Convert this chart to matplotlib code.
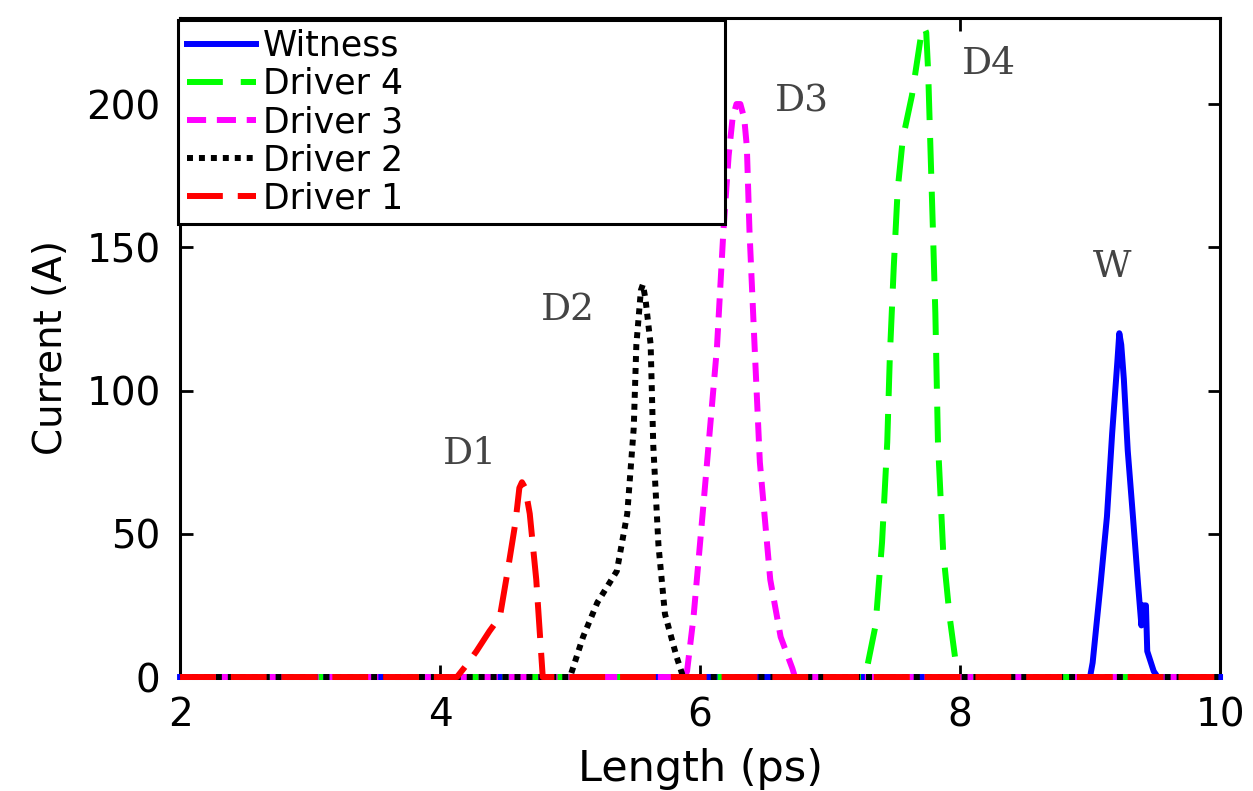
import matplotlib
matplotlib.use("Agg")
import matplotlib.pyplot as plt

# Bunch current profiles along the bunch train (length in ps, current in A)
witness_t = [2.0, 9.00, 9.02, 9.08, 9.13, 9.17, 9.21, 9.225, 9.24, 9.26, 9.29, 9.33,
             9.37, 9.395, 9.40, 9.43, 9.44, 9.49, 9.52, 10.0]
witness_i = [0, 0, 5, 32, 56, 85, 110, 120, 116, 104, 79, 56, 32, 18, 25, 25, 9, 2,
             0, 0]

driver4_t = [2.0, 7.27, 7.35, 7.40, 7.44, 7.46, 7.49, 7.52, 7.56, 7.63, 7.67, 7.70,
             7.72, 7.74, 7.755, 7.77, 7.79, 7.81, 7.83, 7.87, 7.92, 7.97, 7.98, 10.0]
driver4_i = [0, 0, 18, 47, 82, 112, 143, 170, 188, 203, 215, 224, 227, 225, 211, 188,
             158, 127, 82, 44, 21, 4, 0, 0]

driver3_t = [2.0, 5.88, 5.90, 5.95, 6.02, 6.13, 6.18, 6.22, 6.25, 6.28, 6.31, 6.34,
             6.36, 6.38, 6.42, 6.46, 6.54, 6.62, 6.71, 6.73, 10.0]
driver3_i = [0, 0, 2, 21, 57, 115, 156, 182, 195, 200, 200, 195, 185, 156, 115, 75,
             34, 14, 3, 0, 0]

driver2_t = [2.0, 5.00, 5.10, 5.21, 5.36, 5.44, 5.49, 5.51, 5.545, 5.56, 5.58, 5.62,
             5.64, 5.68, 5.73, 5.82, 5.87, 10.0]
driver2_i = [0, 0, 14, 26, 37, 57, 87, 116, 135, 137, 132, 116, 81, 46, 22, 7, 0, 0]

driver1_t = [2.0, 4.13, 4.20, 4.28, 4.38, 4.46, 4.52, 4.58, 4.61, 4.63, 4.655, 4.69,
             4.74, 4.79, 10.0]
driver1_i = [0, 0, 4, 9, 16, 21, 37, 54, 66, 68, 66, 57, 34, 0, 0]

labels = ["Witness", "Driver 4", "Driver 3", "Driver 2", "Driver 1"]
colors = ["#0000FF", "#00FF00", "#FF00FF", "#000000", "#FF0000"]
styles = ["-", (0, (6, 3)), (0, (3.2, 1.8)), (0, (1, 1)), (0, (6, 2.5))]

peak_names = ["W", "D4", "D3", "D2", "D1"]
peak_x = [9.17, 8.22, 6.78, 4.98, 4.23]
peak_y = [143, 214, 201, 128, 78]

x_ticks = [2, 4, 6, 8, 10]
y_ticks = [0, 50, 100, 150, 200]

plt.rcParams["font.family"] = ["DejaVu Sans"]

fig = plt.figure(figsize=(12.53, 7.91), dpi=100)
ax = fig.add_axes([0.1437, 0.1441, 0.8300, 0.8330])

series = [(witness_t, witness_i), (driver4_t, driver4_i), (driver3_t, driver3_i),
          (driver2_t, driver2_i), (driver1_t, driver1_i)]
for (t, i), lab, col, ls in zip(series, labels, colors, styles):
    ax.plot(t, i, color=col, lw=4.3, linestyle=ls, label=lab, clip_on=False,
            dash_capstyle="butt", solid_joinstyle="round", dash_joinstyle="round")

for name, px, py in zip(peak_names, peak_x, peak_y):
    ax.text(px, py, name, family=["DejaVu Serif"],
            fontsize=27, color="#444444", ha="center", va="center")

ax.set_xlim(2, 10)
ax.set_ylim(0, 230)
ax.set_xticks(x_ticks)
ax.set_yticks(y_ticks)
ax.tick_params(direction="in", length=9, width=2, top=True, right=True,
               labelsize=28)
ax.tick_params(axis="y", pad=14)
ax.tick_params(axis="x", pad=14)
for sp in ax.spines.values():
    sp.set_linewidth(2.2)
    sp.set_zorder(1)

ax.set_xlabel("Length (ps)", fontsize=31, labelpad=10)
ax.set_ylabel("Current (A)", fontsize=28, labelpad=12)

leg = ax.legend(loc="upper left", bbox_to_anchor=(-0.002, 0.68, 0.526, 0.317),
                mode="expand", fontsize=25, handlelength=2.0, handletextpad=0.2,
                labelspacing=0.12, borderpad=0.25, borderaxespad=0.0,
                fancybox=False, framealpha=1.0, edgecolor="black")
leg.get_frame().set_linewidth(2.2)
leg.set_zorder(5)

fig.savefig("out.png", dpi=100, facecolor="white")
